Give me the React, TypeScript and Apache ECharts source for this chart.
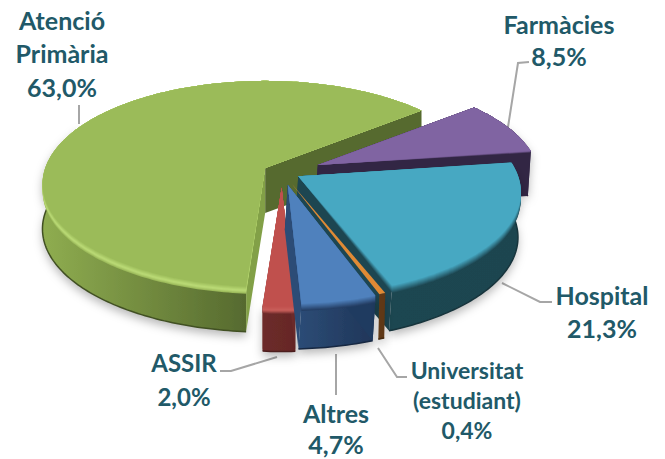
import React, { useEffect, useRef } from "react";
import * as echarts from "echarts";

const names = ["Atenció\nPrimària", "Farmàcies", "Hospital", "ASSIR", "Altres", "Universitat\n(estudiant)"];
const values = [63.0, 8.5, 21.3, 2.0, 4.7, 0.4];
// clockwise order around the pie (start at Atenció Primària); draw order above differs
const clockwiseOrder = [0, 1, 2, 5, 4, 3];
const firstAngle = 184.2;

const explode = [0.087, 0.179, 0.085, 0.15, 0.13, 0.12];
const topColors = ["#9bbb59", "#8064a2", "#47a8c2", "#c0504d", "#4f81bd", "#e08a35"];
const wallFrom = ["#8fad50", "#362a4a", "#1f4651", "#6d2b2a", "#2c4c76", "#623a17"];
const wallTo = ["#566a2f", "#2f2440", "#1e4550", "#652726", "#1f3558", "#5c3614"];
const radialA = ["#82a047", "#362a4a", "#1f4651", "#6d2b2a", "#1f3b60", ""];
const radialB = ["#566a2f", "#322644", "#1d4651", "#6d2b2a", "#2c4c76", ""];
const bandMid = ["#bcdc78", "", "", "#c95f5b", "", ""];
const wallShift = [0, -3, -3, 0, -3, -1];

const labelLayout = [
  { x: 62, y: 53, lh: 33.5, size: 25 },
  { x: 559, y: 40, lh: 32, size: 25 },
  { x: 602, y: 311, lh: 33, size: 25 },
  { x: 184, y: 379, lh: 34, size: 24 },
  { x: 336, y: 428, lh: 31, size: 25 },
  { x: 467, y: 400, lh: 30, size: 23 },
];
const leaders = [
  [[79, 105], [79, 124]],
  [[508, 127], [518, 63], [529, 62]],
  [[502, 283], [540, 302], [552, 302]],
  [[277, 357], [231, 371], [220, 371]],
  [[336, 354], [336, 395]],
  [[378, 348], [397, 377], [407, 377]],
];

const CX = 282, CY = 172, RX = 220, RY = 100.6, K = 0.155, DEPTH = 45;
const LABEL = "#215968";

const project = (u: number, v: number) => {
  const w = 1 + K * v;
  return [(RX * u) / w, (-RY * v) / w];
};
const hex = (c: string) => [1, 3, 5].map((i) => parseInt(c.slice(i, i + 2), 16));
const mix = (a: string, b: string, t: number) => {
  const A = hex(a), B = hex(b);
  return `rgb(${A.map((x, i) => Math.round(x + (B[i] - x) * t)).join(",")})`;
};

const total = values.reduce((s, v) => s + v, 0);
const ranges: Record<number, [number, number]> = {};
{
  let cur = firstAngle;
  for (const idx of clockwiseOrder) {
    const span = (values[idx] / total) * 360;
    ranges[idx] = [cur, cur + span];
    cur += span;
  }
}

function renderItem(params: any, api: any) {
  const i = params.dataIndex;
  api.value(0);
  const [a, b] = ranges[i];
  const rad = (d: number) => (d * Math.PI) / 180;
  const mid = rad((a + b) / 2);
  const off = project(explode[i] * Math.sin(mid), explode[i] * Math.cos(mid));
  const ax = CX + off[0], ay = CY + off[1];
  const rim: number[][] = [];
  const bevel: number[] = [];
  const front: number[][] = [];
  const steps = Math.max(2, Math.ceil(b - a));
  for (let s = 0; s <= steps; s++) {
    const t = rad(a + ((b - a) * s) / steps);
    const p = project(Math.sin(t), Math.cos(t));
    const pt = [ax + p[0], ay + p[1]];
    rim.push(pt);
    bevel.push(Math.min(1, Math.max(0, (0.3 - Math.cos(t)) / 0.6)));
    if (Math.cos(t) < 0.45) front.push(pt);
  }
  const sh = wallShift[i];
  const down = (p: number[]) => [p[0] + sh, p[1] + DEPTH];
  const apex = [ax, ay];
  const first = rim[0], last = rim[rim.length - 1];
  const children: any[] = [];
  const poly = (points: number[][], fill: any, extra: any = {}) => ({
    type: "polygon",
    shape: { points },
    style: { fill, ...extra },
  });
  children.push(
    poly([...front, ...front.map(down).reverse()], {
      type: "linear", x: 0, y: 0, x2: 1, y2: 0,
      colorStops: [{ offset: 0, color: wallFrom[i] }, { offset: 1, color: wallTo[i] }],
    }, { shadowBlur: 10, shadowOffsetY: 5, shadowColor: "rgba(0,0,0,0.28)" })
  );
  children.push({
    type: "polyline",
    shape: { points: front.map(down) },
    style: { fill: "none", stroke: mix(wallTo[i], "#000000", 0.25), lineWidth: 1.5 },
  });
  if (radialA[i]) children.push(poly([apex, first, down(first), down(apex)], radialA[i]));
  if (radialB[i]) children.push(poly([apex, last, down(last), down(apex)], radialB[i]));
  const LAYERS = i === 5 ? 0 : 7;
  for (let l = LAYERS; l >= 1; l--) {
    const t = 1 - l / (LAYERS + 1);
    const color = bandMid[i]
      ? t < 0.45
        ? mix(wallFrom[i], bandMid[i], t / 0.45)
        : mix(bandMid[i], topColors[i], (t - 0.45) / 0.55)
      : mix(wallTo[i], topColors[i], t);
    children.push(poly([apex, ...rim.map((p, k) => [p[0], p[1] + l * bevel[k]])], color));
  }
  children.push(poly([apex, ...rim], topColors[i]));
  return { type: "group", children };
}

export default function App() {
  const ref = useRef<HTMLDivElement>(null);
  useEffect(() => {
    const chart = echarts.init(ref.current!, null, { renderer: "svg" });
    const graphics: any[] = [];
    leaders.forEach((pts) =>
      graphics.push({
        type: "polyline",
        shape: { points: pts },
        style: { stroke: "#a6a6a6", lineWidth: 2, fill: "none" },
      })
    );
    names.forEach((n, i) => {
      const l = labelLayout[i];
      graphics.push({
        type: "text",
        x: l.x,
        y: l.y,
        style: {
          text: `${n}\n${values[i].toFixed(1).replace(".", ",")}%`,
          font: `bold ${l.size}px Lato, "Open Sans", sans-serif`,
          fill: LABEL,
          align: "center",
          verticalAlign: "middle",
          lineHeight: l.lh,
        },
      });
    });
    chart.setOption({
      animation: false,
      backgroundColor: "#ffffff",
      series: [
        {
          type: "custom",
          coordinateSystem: "none",
          renderItem,
          silent: true,
          data: values.map((v, i) => ({ name: names[i], value: [v] })),
        },
      ],
      graphic: graphics,
    });
    return () => chart.dispose();
  }, []);
  return <div ref={ref} style={{ position: "absolute", left: 0, top: 0, width: 665, height: 459 }} />;
}
